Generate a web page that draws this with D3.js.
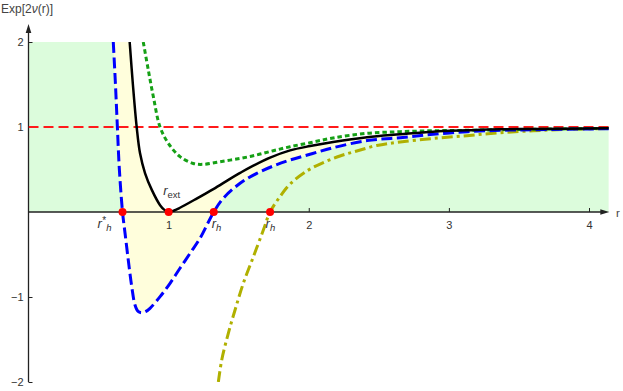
<!DOCTYPE html>
<html>
<head>
<meta charset="utf-8">
<script src="https://cdn.jsdelivr.net/npm/d3@7/dist/d3.min.js"></script>
<style>
  html, body { margin: 0; padding: 0; background: #fff; }
  svg { display: block; }
  text { font-family: "Liberation Sans", Arial, sans-serif; }
</style>
</head>
<body>
<svg id="chart" width="623" height="391"></svg>
<script>
// ---- data ----
const xTicks = [1, 2, 3, 4];
const yTicks = [-2, -1, 1, 2];

// black solid (extremal)
const blackR = [0.722, 0.745, 0.772, 0.796, 0.832, 0.88, 0.939, 0.97, 1.0, 1.04, 1.081, 1.2, 1.319, 1.438, 1.51, 1.581, 1.724, 1.867, 2.01, 2.174, 2.416, 2.652, 2.887, 3.13, 3.365, 3.6, 4.14];
const blackF = [2.0, 1.5, 1.0, 0.69, 0.455, 0.26, 0.08, 0.025, 0.0, 0.018, 0.05, 0.158, 0.27, 0.39, 0.46, 0.525, 0.64, 0.725, 0.776, 0.824, 0.88, 0.914, 0.945, 0.961, 0.973, 0.976, 0.985];

// blue long dashes (two horizons)
const blueR = [0.605, 0.62, 0.634, 0.648, 0.671, 0.689, 0.712, 0.737, 0.76, 0.782, 0.808, 0.838, 0.867, 0.939, 1.01, 1.081, 1.153, 1.224, 1.322, 1.39, 1.51, 1.629, 1.747, 1.867, 2.009, 2.173, 2.416, 2.652, 2.887, 3.13, 3.365, 3.6, 4.14];
const blueF = [2.0, 1.52, 1.01, 0.514, 0.0, -0.25, -0.565, -0.88, -1.094, -1.17, -1.185, -1.17, -1.133, -0.996, -0.839, -0.662, -0.486, -0.309, 0.0, 0.161, 0.338, 0.455, 0.541, 0.612, 0.679, 0.756, 0.84, 0.874, 0.914, 0.945, 0.961, 0.968, 0.98];

// green short dashes (no horizon)
const greenR = [0.819, 0.855, 0.891, 0.938, 0.998, 1.081, 1.176, 1.248, 1.367, 1.51, 1.629, 1.747, 1.867, 2.009, 2.173, 2.416, 2.652, 2.887, 3.13, 3.365, 3.6, 4.14];
const greenF = [2.0, 1.67, 1.356, 1.004, 0.808, 0.651, 0.571, 0.561, 0.592, 0.63, 0.671, 0.721, 0.768, 0.815, 0.871, 0.926, 0.945, 0.956, 0.961, 0.968, 0.973, 0.985];

// olive dash-dot (single horizon)
const oliveR = [1.355, 1.379, 1.426, 1.474, 1.533, 1.605, 1.676, 1.724, 1.795, 1.867, 1.986, 2.104, 2.223, 2.343, 2.485, 2.652, 2.889, 3.128, 3.365, 3.603, 3.842, 4.14];
const oliveF = [-2.0, -1.741, -1.427, -1.153, -0.839, -0.526, -0.212, 0.0, 0.182, 0.329, 0.482, 0.582, 0.659, 0.718, 0.782, 0.824, 0.865, 0.898, 0.933, 0.956, 0.972, 0.984];

// horizon points (red dots)
const dotR = [0.671, 1.0, 1.322, 1.724];
const dotF = [0, 0, 0, 0];

const asymptote = 1;   // red dashed line
const rMax = 4.14;

// ---- scales ----
const svg = d3.select("#chart");
const x = d3.scaleLinear().domain([0, 4]).range([28.5, 589]);
const y = d3.scaleLinear().domain([-2, 2]).range([382, 42]);

const zip = (a, b) => a.map((v, i) => [v, b[i]]);
const black = zip(blackR, blackF), blue = zip(blueR, blueF),
      green = zip(greenR, greenF), olive = zip(oliveR, oliveF);

const curve = d3.curveCatmullRom.alpha(0.5);
const line = d3.line().x(d => x(d[0])).y(d => y(d[1])).curve(curve);

const defs = svg.append("defs");
defs.append("clipPath").attr("id", "plot")
  .append("rect").attr("x", x(0)).attr("y", y(2))
  .attr("width", x(rMax) - x(0) + 2).attr("height", y(-2) - y(2));
defs.append("clipPath").attr("id", "upper")
  .append("rect").attr("x", x(0)).attr("y", y(2))
  .attr("width", x(rMax) - x(0) + 2).attr("height", y(0) - y(2));

// ---- fills ----
const fills = svg.append("g");
fills.append("rect")
  .attr("x", x(0)).attr("y", y(2))
  .attr("width", x(blueR[0]) - x(0) + 0.5).attr("height", y(0) - y(2))
  .attr("fill", "#dcfcdc");
fills.append("path")
  .attr("clip-path", "url(#upper)")
  .attr("d", d3.area().x(d => x(d[0])).y0(y(0)).y1(d => y(d[1])).curve(curve)(blue))
  .attr("fill", "#dcfcdc");
fills.append("path")
  .attr("clip-path", "url(#plot)")
  .attr("d", line(black) + line(blue.slice().reverse()).replace(/^M/, "L") + "Z")
  .attr("fill", "#fffedc");

// ---- axes ----
const xAxis = svg.append("g")
  .attr("transform", `translate(0,${y(0)})`)
  .call(d3.axisBottom(x).tickValues(xTicks).tickFormat(d3.format("d"))
        .tickSizeInner(-4).tickSizeOuter(0).tickPadding(9));
const yAxis = svg.append("g")
  .attr("transform", `translate(${x(0)},0)`)
  .call(d3.axisLeft(y).tickValues(yTicks).tickFormat(d3.format("d"))
        .tickSizeInner(-4).tickSizeOuter(0).tickPadding(5));
[xAxis, yAxis].forEach(g => {
  g.select(".domain").remove();
  g.selectAll(".tick line").attr("stroke", "#222").attr("stroke-width", 1);
  g.selectAll(".tick text").attr("fill", "#333").style("font-size", "11px")
    .style("font-family", "'Liberation Sans', Arial, sans-serif");
});

// axis lines with arrows
const xEnd = x(4.145), yTop = 24;
svg.append("line").attr("x1", x(0)).attr("x2", xEnd - 6)
  .attr("y1", y(0)).attr("y2", y(0)).attr("stroke", "#222").attr("stroke-width", 1.3);
svg.append("path").attr("d", `M${xEnd},${y(0)} L${xEnd - 9},${y(0) - 2.8} L${xEnd - 9},${y(0) + 2.8} Z`).attr("fill", "#222");
svg.append("line").attr("x1", x(0)).attr("x2", x(0))
  .attr("y1", y(-2)).attr("y2", yTop + 6).attr("stroke", "#222").attr("stroke-width", 1.3);
svg.append("path").attr("d", `M${x(0)},${yTop} L${x(0) - 2.8},${yTop + 9} L${x(0) + 2.8},${yTop + 9} Z`).attr("fill", "#222");

// axis titles
const t1 = svg.append("text").attr("x", 1).attr("y", 13).attr("fill", "#444").style("font-size", "12px");
t1.append("tspan").text("Exp[2");
t1.append("tspan").attr("font-style", "italic").text("ν");
t1.append("tspan").text("(r)]");
svg.append("text").attr("x", 616).attr("y", 217).attr("fill", "#444").style("font-size", "11.5px").text("r");

// ---- curves ----
const curves = svg.append("g").attr("clip-path", "url(#plot)");
curves.append("line")
  .attr("x1", x(0)).attr("x2", x(rMax)).attr("y1", y(asymptote)).attr("y2", y(asymptote))
  .attr("stroke", "#ff1a1a").attr("stroke-width", 1.8).attr("stroke-dasharray", "10,5");
curves.append("path").attr("d", line(olive)).attr("fill", "none")
  .attr("stroke", "#b0b000").attr("stroke-width", 3).attr("stroke-dasharray", "11,4,3,4");
curves.append("path").attr("d", line(green)).attr("fill", "none")
  .attr("stroke", "#15a015").attr("stroke-width", 3).attr("stroke-dasharray", "4.5,3");
curves.append("path").attr("d", line(blue)).attr("fill", "none")
  .attr("stroke", "#0000ff").attr("stroke-width", 3).attr("stroke-dasharray", "11,4.5");
curves.append("path").attr("d", line(black)).attr("fill", "none")
  .attr("stroke", "#000").attr("stroke-width", 2.5);

// ---- horizon dots ----
svg.append("g").selectAll("circle").data(zip(dotR, dotF)).join("circle")
  .attr("cx", d => x(d[0])).attr("cy", d => y(d[1])).attr("r", 4)
  .attr("fill", "#ff0000");

// ---- annotations ----
function label(px, py, sup, sub, subItalic) {
  const t = svg.append("text").attr("x", px).attr("y", py).attr("fill", "#333");
  t.append("tspan").attr("font-style", "italic").style("font-size", "13px").text("r");
  if (sup) t.append("tspan").attr("dx", 0.5).attr("dy", -4).style("font-size", "10px").text(sup);
  t.append("tspan").attr("dy", sup ? 7 : 3).attr("font-style", subItalic ? "italic" : "normal")
    .style("font-size", "9.5px").text(sub);
}
label(x(dotR[0]) - 25, 228, "*", "h", true);
label(x(dotR[2]) - 2, 228, null, "h", true);
label(x(dotR[3]) - 4.5, 228, null, "h", true);
label(x(dotR[1]) - 5.5, 195, null, "ext", false);
</script>
</body>
</html>
